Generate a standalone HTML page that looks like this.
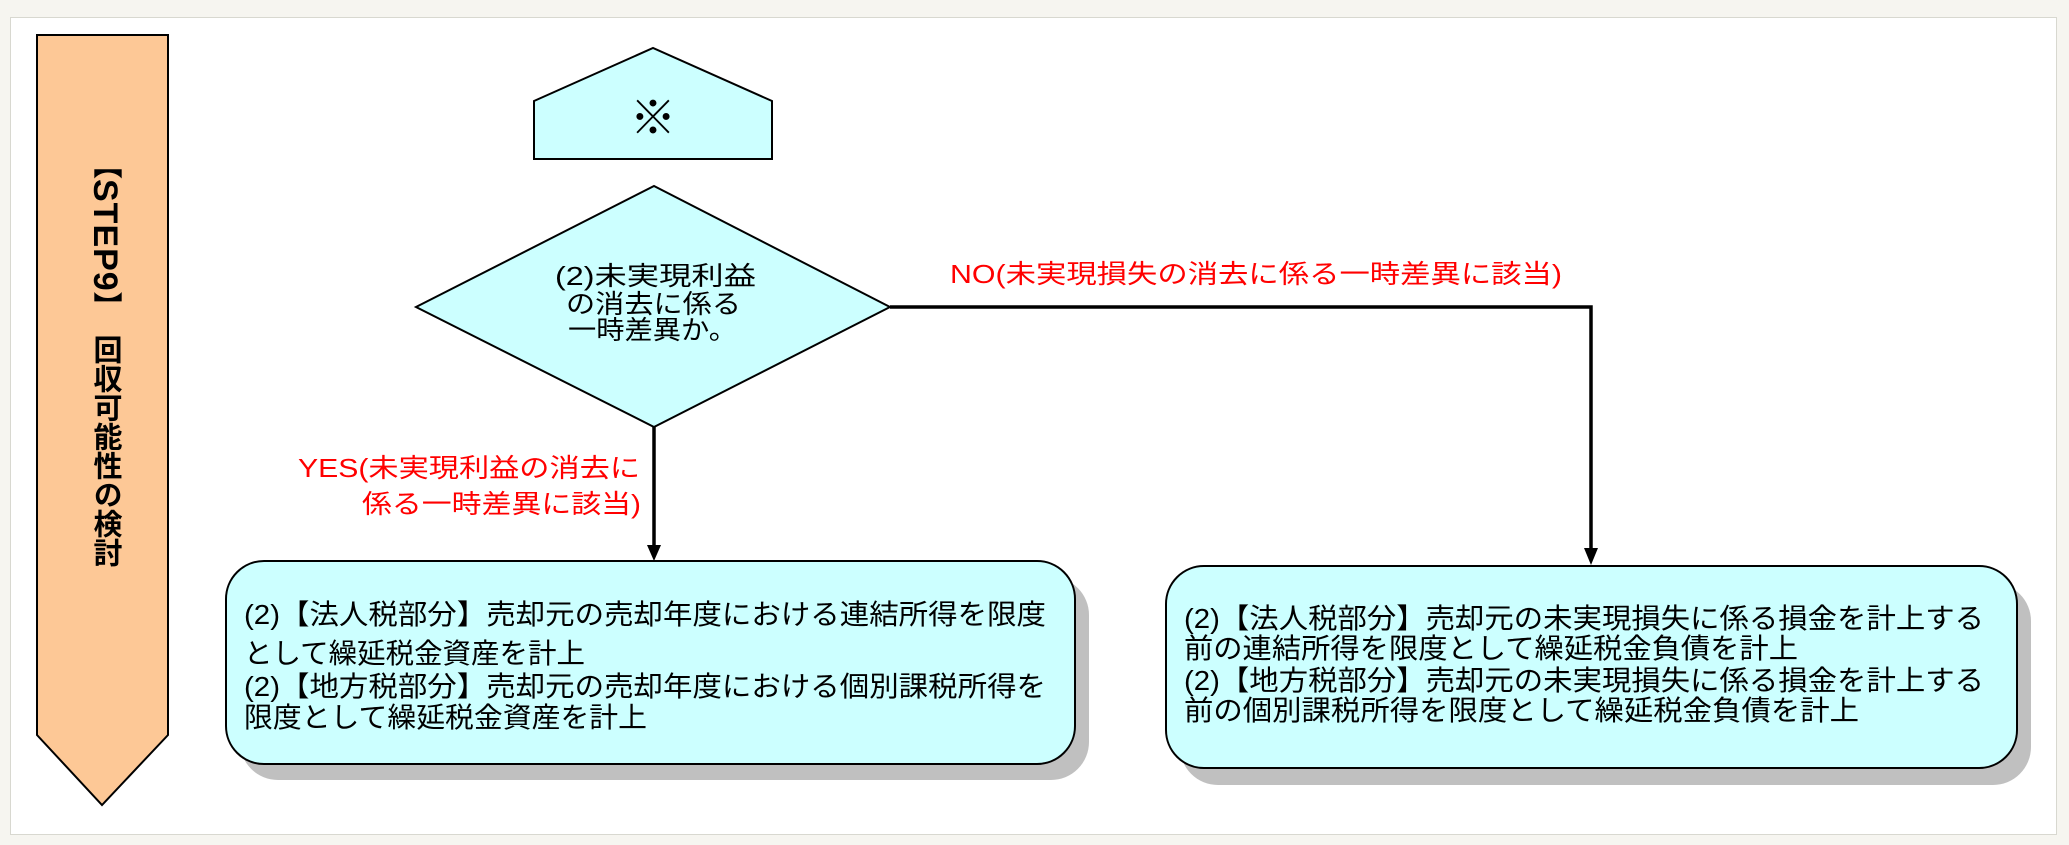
<!DOCTYPE html>
<html><head><meta charset="utf-8"><style>
html,body{margin:0;padding:0;background:#f6f5f0;}
#c{position:relative;width:2069px;height:845px;overflow:hidden;background:#f6f5f0;}
svg{position:absolute;left:0;top:0;}
.vt{position:absolute;left:88px;top:150px;writing-mode:vertical-rl;text-orientation:mixed;font-family:"Liberation Sans","Noto Sans CJK JP",sans-serif;font-weight:bold;font-size:29px;line-height:34px;color:#000;white-space:nowrap;}
.vt .l{font-size:34px;letter-spacing:1px;}
.vt .j{letter-spacing:0px;}
</style></head><body><div id="c">
<svg width="2069" height="845" viewBox="0 0 2069 845" font-family="Liberation Sans, Noto Sans CJK JP, sans-serif">
<rect x="10.5" y="17.5" width="2046" height="817" fill="#fff" stroke="#d8d8d0" stroke-width="1"/>
<polygon points="37,35 168,35 168,735 102,805 37,735" fill="#fdc896" stroke="#000" stroke-width="2"/>
<polygon points="534,101 653,48 772,101 772,159 534,159" fill="#ccffff" stroke="#000" stroke-width="2"/>
<text x="653" y="134" font-size="46" text-anchor="middle" fill="#000">※</text>
<polygon points="416,307 654,186 890,307 654,427" fill="#ccffff" stroke="#000" stroke-width="2"/>
<g font-size="26" fill="#000">
<text x="555" y="285" textLength="201" lengthAdjust="spacingAndGlyphs">(2)未実現利益</text>
<text x="566" y="313" textLength="175" lengthAdjust="spacingAndGlyphs">の消去に係る</text>
<text x="568" y="339" textLength="169" lengthAdjust="spacingAndGlyphs">一時差異か。</text>
</g>
<polyline points="890,307 1591,307 1591,552" fill="none" stroke="#000" stroke-width="3.5"/>
<polygon points="1584,548 1598,548 1591,565" fill="#000"/>
<line x1="654" y1="427" x2="654" y2="548" stroke="#000" stroke-width="3.5"/>
<polygon points="647,545 661,545 654,561" fill="#000"/>
<g font-size="26" fill="#ff0000">
<text x="950" y="283" textLength="612" lengthAdjust="spacingAndGlyphs">NO(未実現損失の消去に係る一時差異に該当)</text>
<text x="298" y="477" textLength="342" lengthAdjust="spacingAndGlyphs">YES(未実現利益の消去に</text>
<text x="362" y="513" textLength="279" lengthAdjust="spacingAndGlyphs">係る一時差異に該当)</text>
</g>
<rect x="240" y="577" width="849" height="203" rx="38" fill="#c0c0c0"/>
<rect x="226" y="561" width="849" height="203" rx="38" fill="#ccffff" stroke="#000" stroke-width="2"/>
<rect x="1180" y="583" width="851" height="202" rx="38" fill="#c0c0c0"/>
<rect x="1166" y="566" width="851" height="202" rx="38" fill="#ccffff" stroke="#000" stroke-width="2"/>
<g font-size="28" fill="#000">
<text x="244" y="624" textLength="802" lengthAdjust="spacingAndGlyphs">(2)【法人税部分】売却元の売却年度における連結所得を限度</text>
<text x="244" y="663" textLength="341" lengthAdjust="spacingAndGlyphs">として繰延税金資産を計上</text>
<text x="244" y="696" textLength="802" lengthAdjust="spacingAndGlyphs">(2)【地方税部分】売却元の売却年度における個別課税所得を</text>
<text x="244" y="727" textLength="403" lengthAdjust="spacingAndGlyphs">限度として繰延税金資産を計上</text>
<text x="1184" y="628" textLength="800" lengthAdjust="spacingAndGlyphs">(2)【法人税部分】売却元の未実現損失に係る損金を計上する</text>
<text x="1184" y="658" textLength="614" lengthAdjust="spacingAndGlyphs">前の連結所得を限度として繰延税金負債を計上</text>
<text x="1184" y="690" textLength="800" lengthAdjust="spacingAndGlyphs">(2)【地方税部分】売却元の未実現損失に係る損金を計上する</text>
<text x="1184" y="720" textLength="675" lengthAdjust="spacingAndGlyphs">前の個別課税所得を限度として繰延税金負債を計上</text>
</g>
</svg>
<div class="vt">【<span class="l">STEP9</span>】　<span class="j">回収可能性の検討</span></div>
</div></body></html>
